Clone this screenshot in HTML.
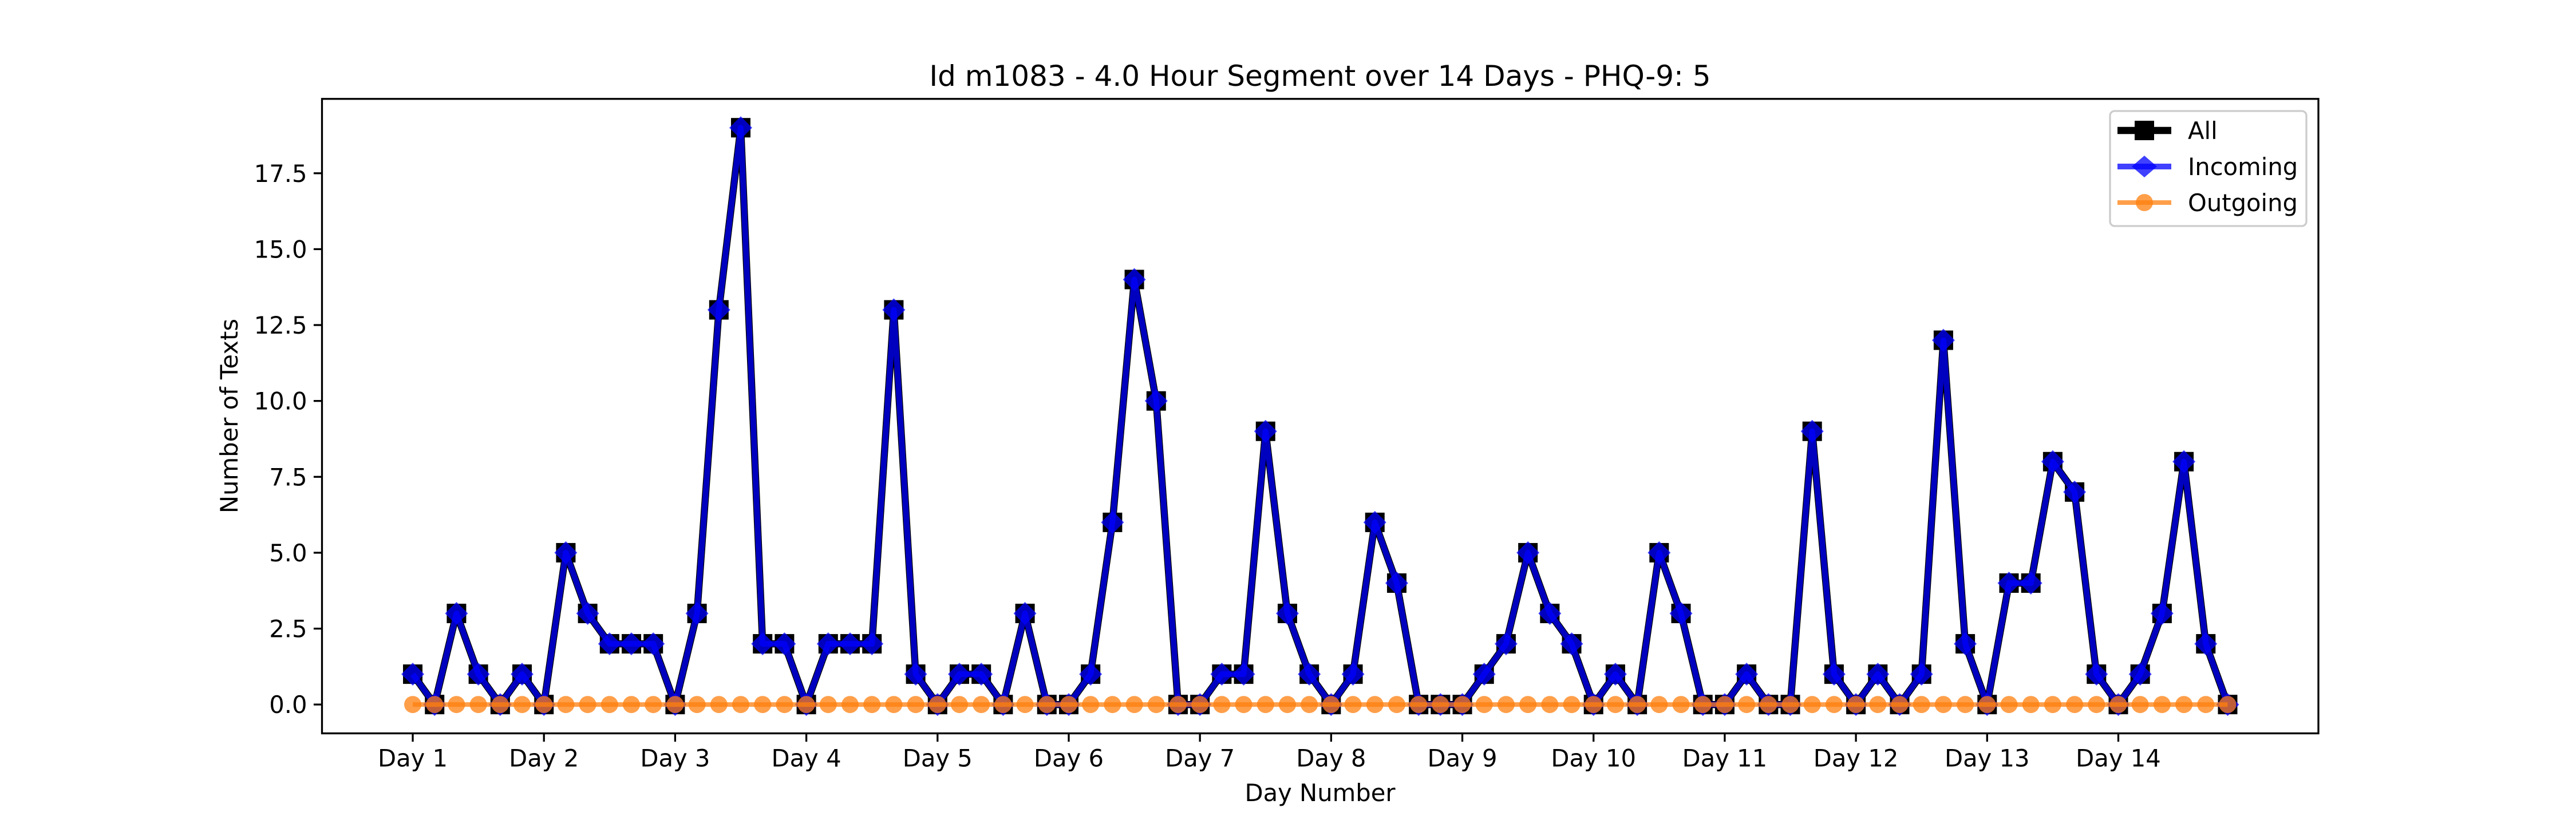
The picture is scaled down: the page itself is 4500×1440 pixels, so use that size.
<!DOCTYPE html>
<html><head><meta charset="utf-8"><style>
html,body{margin:0;padding:0;background:#fff;}
svg{display:block;font-family:"DejaVu Sans","Liberation Sans",sans-serif;}
</style></head><body>
<svg id="chart" width="4500" height="1440" viewBox="0 0 4500 1440" xmlns="http://www.w3.org/2000/svg">
<rect width="4500" height="1440" fill="#fff"/>
<text x="2306" y="150" font-size="50" text-anchor="middle">Id m1083 - 4.0 Hour Segment over 14 Days - PHQ-9: 5</text>
<g id="grid"></g>
<g id="marks"></g>
<rect x="562.5" y="172.8" width="3487.5" height="1108.8" fill="none" stroke="#000" stroke-width="3.3"/>
<g id="axes"></g>
<text x="2306" y="1400" font-size="41.7" text-anchor="middle">Day Number</text>
<text transform="translate(415,727) rotate(-90)" font-size="41.7" text-anchor="middle">Number of Texts</text>
<g>
<rect x="3686" y="194" width="343" height="201" rx="8" fill="#fff" fill-opacity="0.8" stroke="#ccc" stroke-width="3.3"/>
<line x1="3699" y1="228" x2="3793" y2="228" stroke="#000" stroke-width="12.5"/>
<rect x="3729" y="211" width="34" height="34" fill="#000"/>
<text x="3822" y="243" font-size="41.7">All</text>
<line x1="3699" y1="291" x2="3793" y2="291" stroke="#0000ff" stroke-opacity="0.75" stroke-width="10"/>
<polygon points="3746,272 3768,291 3746,310 3724,291" fill="#0000ff" fill-opacity="0.75"/>
<text x="3822" y="306" font-size="41.7">Incoming</text>
<line x1="3699" y1="354" x2="3793" y2="354" stroke="#ff7f0e" stroke-opacity="0.75" stroke-width="8"/>
<circle cx="3746" cy="354" r="15" fill="#ff7f0e" fill-opacity="0.75"/>
<text x="3822" y="369" font-size="41.7">Outgoing</text>
</g>
</svg>
<script>
const dayLabels = ["Day 1","Day 2","Day 3","Day 4","Day 5","Day 6","Day 7","Day 8","Day 9","Day 10","Day 11","Day 12","Day 13","Day 14"];
const yTicks = [0,2.5,5,7.5,10,12.5,15,17.5];
const yTickLabels = ["0.0","2.5","5.0","7.5","10.0","12.5","15.0","17.5"];
const allCounts = [1,0,3,1,0,1, 0,5,3,2,2,2, 0,3,13,19,2,2, 0,2,2,2,13,1, 0,1,1,0,3,0, 0,1,6,14,10,0, 0,1,1,9,3,1, 0,1,6,4,0,0, 0,1,2,5,3,2, 0,1,0,5,3,0, 0,1,0,0,9,1, 0,1,0,1,12,2, 0,4,4,8,7,1, 0,1,3,8,2,0];
const incomingCounts = [1,0,3,1,0,1, 0,5,3,2,2,2, 0,3,13,19,2,2, 0,2,2,2,13,1, 0,1,1,0,3,0, 0,1,6,14,10,0, 0,1,1,9,3,1, 0,1,6,4,0,0, 0,1,2,5,3,2, 0,1,0,5,3,0, 0,1,0,0,9,1, 0,1,0,1,12,2, 0,4,4,8,7,1, 0,1,3,8,2,0];
const outgoingCounts = [0,0,0,0,0,0, 0,0,0,0,0,0, 0,0,0,0,0,0, 0,0,0,0,0,0, 0,0,0,0,0,0, 0,0,0,0,0,0, 0,0,0,0,0,0, 0,0,0,0,0,0, 0,0,0,0,0,0, 0,0,0,0,0,0, 0,0,0,0,0,0, 0,0,0,0,0,0, 0,0,0,0,0,0, 0,0,0,0,0,0];
const segmentsPerDay = 6;

const NS = "http://www.w3.org/2000/svg";
const L = 562.5, R = 4050, T = 172.8, B = 1281.6;
const n = allCounts.length;
const xMin = -(n-1)*0.05, xMax = (n-1)*1.05;
const allMax = Math.max(...allCounts, ...incomingCounts, ...outgoingCounts);
const yMin = -allMax*0.05, yMax = allMax*1.05;
function xs(i){ return L + (i - xMin)/(xMax - xMin)*(R-L); }
function ys(v){ return B - (v - yMin)/(yMax - yMin)*(B-T); }
function mk(tag, attrs, parent){ const e = document.createElementNS(NS, tag); for (const k in attrs) e.setAttribute(k, attrs[k]); parent.appendChild(e); return e; }

const axes = document.getElementById("axes");
dayLabels.forEach((lab, d) => {
  const x = xs(d*segmentsPerDay);
  const t = mk("line", {x1:x, y1:B, x2:x, y2:B+14.6, stroke:"#000", "stroke-width":3.3}, axes);
  
  
  const tx = mk("text", {x:x, y:B+58, "font-size":41.7, "text-anchor":"middle"}, axes);
  
  
  tx.textContent = lab;
});
yTicks.forEach((v, k) => {
  const y = ys(v);
  const t = mk("line", {x1:L-14.6, y1:y, x2:L, y2:y, stroke:"#000", "stroke-width":3.3}, axes);
  
  
  const tx = mk("text", {x:L-26, y:y+15, "font-size":41.7, "text-anchor":"end"}, axes);
  
  
  tx.textContent = yTickLabels[k];
});

const marks = document.getElementById("marks");
function pts(arr){ return arr.map((v,i)=>xs(i)+","+ys(v)).join(" "); }
const la = mk("polyline", {points:pts(allCounts), fill:"none", stroke:"#000", "stroke-width":12.5, "stroke-linejoin":"round"}, marks);


allCounts.forEach((v,i)=>{
  const r = mk("rect", {x:xs(i)-17, y:ys(v)-17, width:34, height:34, fill:"#000"}, marks);
  
  
});
const li = mk("polyline", {points:pts(incomingCounts), fill:"none", stroke:"#0000ff", "stroke-opacity":0.75, "stroke-width":10, "stroke-linejoin":"round"}, marks);


incomingCounts.forEach((v,i)=>{
  const x = xs(i), y = ys(v);
  const p = mk("polygon", {points:`${x},${y-20} ${x+20},${y} ${x},${y+20} ${x-20},${y}`, fill:"#0000ff", "fill-opacity":0.75}, marks);
  
  
});
const lo = mk("polyline", {points:pts(outgoingCounts), fill:"none", stroke:"#ff7f0e", "stroke-opacity":0.75, "stroke-width":8}, marks);


outgoingCounts.forEach((v,i)=>{
  const c = mk("circle", {cx:xs(i), cy:ys(v), r:15, fill:"#ff7f0e", "fill-opacity":0.75}, marks);
  
  
});
</script>
</body></html>
